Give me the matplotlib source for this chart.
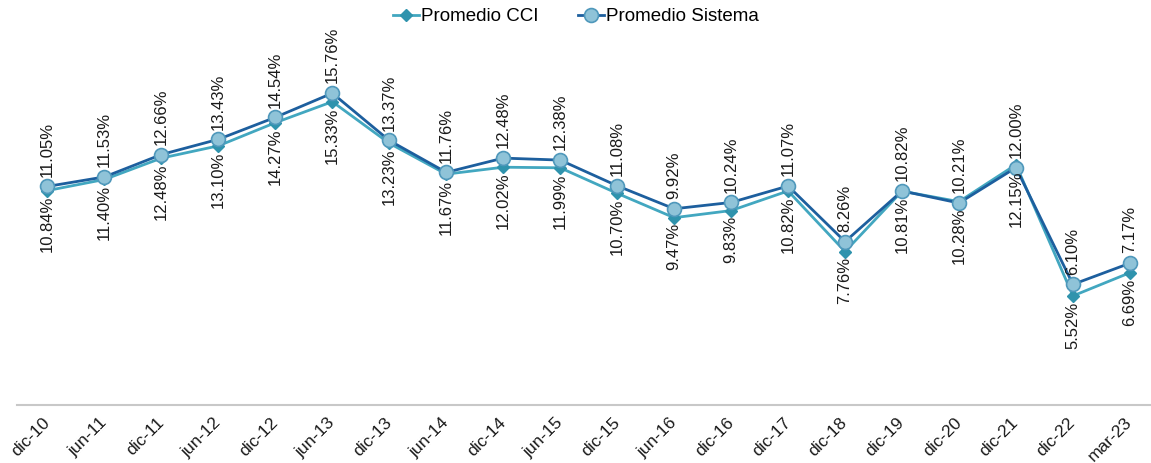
import matplotlib
matplotlib.use("Agg")
import matplotlib.pyplot as plt

periods = ["dic-10", "jun-11", "dic-11", "jun-12", "dic-12", "jun-13", "dic-13", "jun-14",
           "dic-14", "jun-15", "dic-15", "jun-16", "dic-16", "dic-17", "dic-18", "dic-19",
           "dic-20", "dic-21", "dic-22", "mar-23"]
cci = [10.84, 11.40, 12.48, 13.10, 14.27, 15.33, 13.23, 11.67, 12.02, 11.99,
       10.70, 9.47, 9.83, 10.82, 7.76, 10.81, 10.28, 12.15, 5.52, 6.69]
sistema = [11.05, 11.53, 12.66, 13.43, 14.54, 15.76, 13.37, 11.76, 12.48, 12.38,
           11.08, 9.92, 10.24, 11.07, 8.26, 10.82, 10.21, 12.00, 6.10, 7.17]

plt.rcParams['font.family'] = ['Liberation Sans', 'DejaVu Sans']

fig = plt.figure(figsize=(11.51, 4.63), dpi=100)
ax = fig.add_axes([0.015, 0.125, 0.985, 0.855])
x = list(range(len(periods)))

ax.plot(x, cci, color="#42a7c0", lw=2, marker="D", markersize=6,
        markerfacecolor="#2f93ad", markeredgecolor="#2f93ad", label="Promedio CCI", zorder=2)
ax.plot(x, sistema, color="#1d5f9e", lw=2, marker="o", markersize=10,
        markerfacecolor="#8fc3d8", markeredgecolor="#4f98bb", markeredgewidth=1.2,
        label="Promedio Sistema", zorder=3)

for xi, v in zip(x, sistema):
    ax.annotate(f"{v:.2f}%", (xi, v), xytext=(0, 7), textcoords="offset points",
                rotation=90, ha="center", va="bottom", fontsize=12, color="#1a1a1a")
for xi, v in zip(x, cci):
    ax.annotate(f"{v:.2f}%", (xi, v), xytext=(0, -4), textcoords="offset points",
                rotation=90, ha="center", va="top", fontsize=12, color="#1a1a1a")

ax.set_xlim(-0.53, 19.37)
ax.set_ylim(0, 20)
ax.set_xticks(x)
ax.set_xticklabels(periods, rotation=45, ha="right", va="center", rotation_mode="anchor",
                   fontsize=12.5, color="#1a1a1a")
ax.tick_params(axis="x", length=0, pad=11)
ax.set_yticks([])
for s in ["top", "right", "left"]:
    ax.spines[s].set_visible(False)
ax.spines["bottom"].set_color("#c8c8c8")
ax.spines["bottom"].set_linewidth(1.5)

ax.legend(loc="upper center", bbox_to_anchor=(0.493, 1.045), ncol=2, frameon=False,
          fontsize=13.5, handlelength=1.4, handletextpad=0.1, columnspacing=2.1)

fig.savefig("out.png", dpi=100)
